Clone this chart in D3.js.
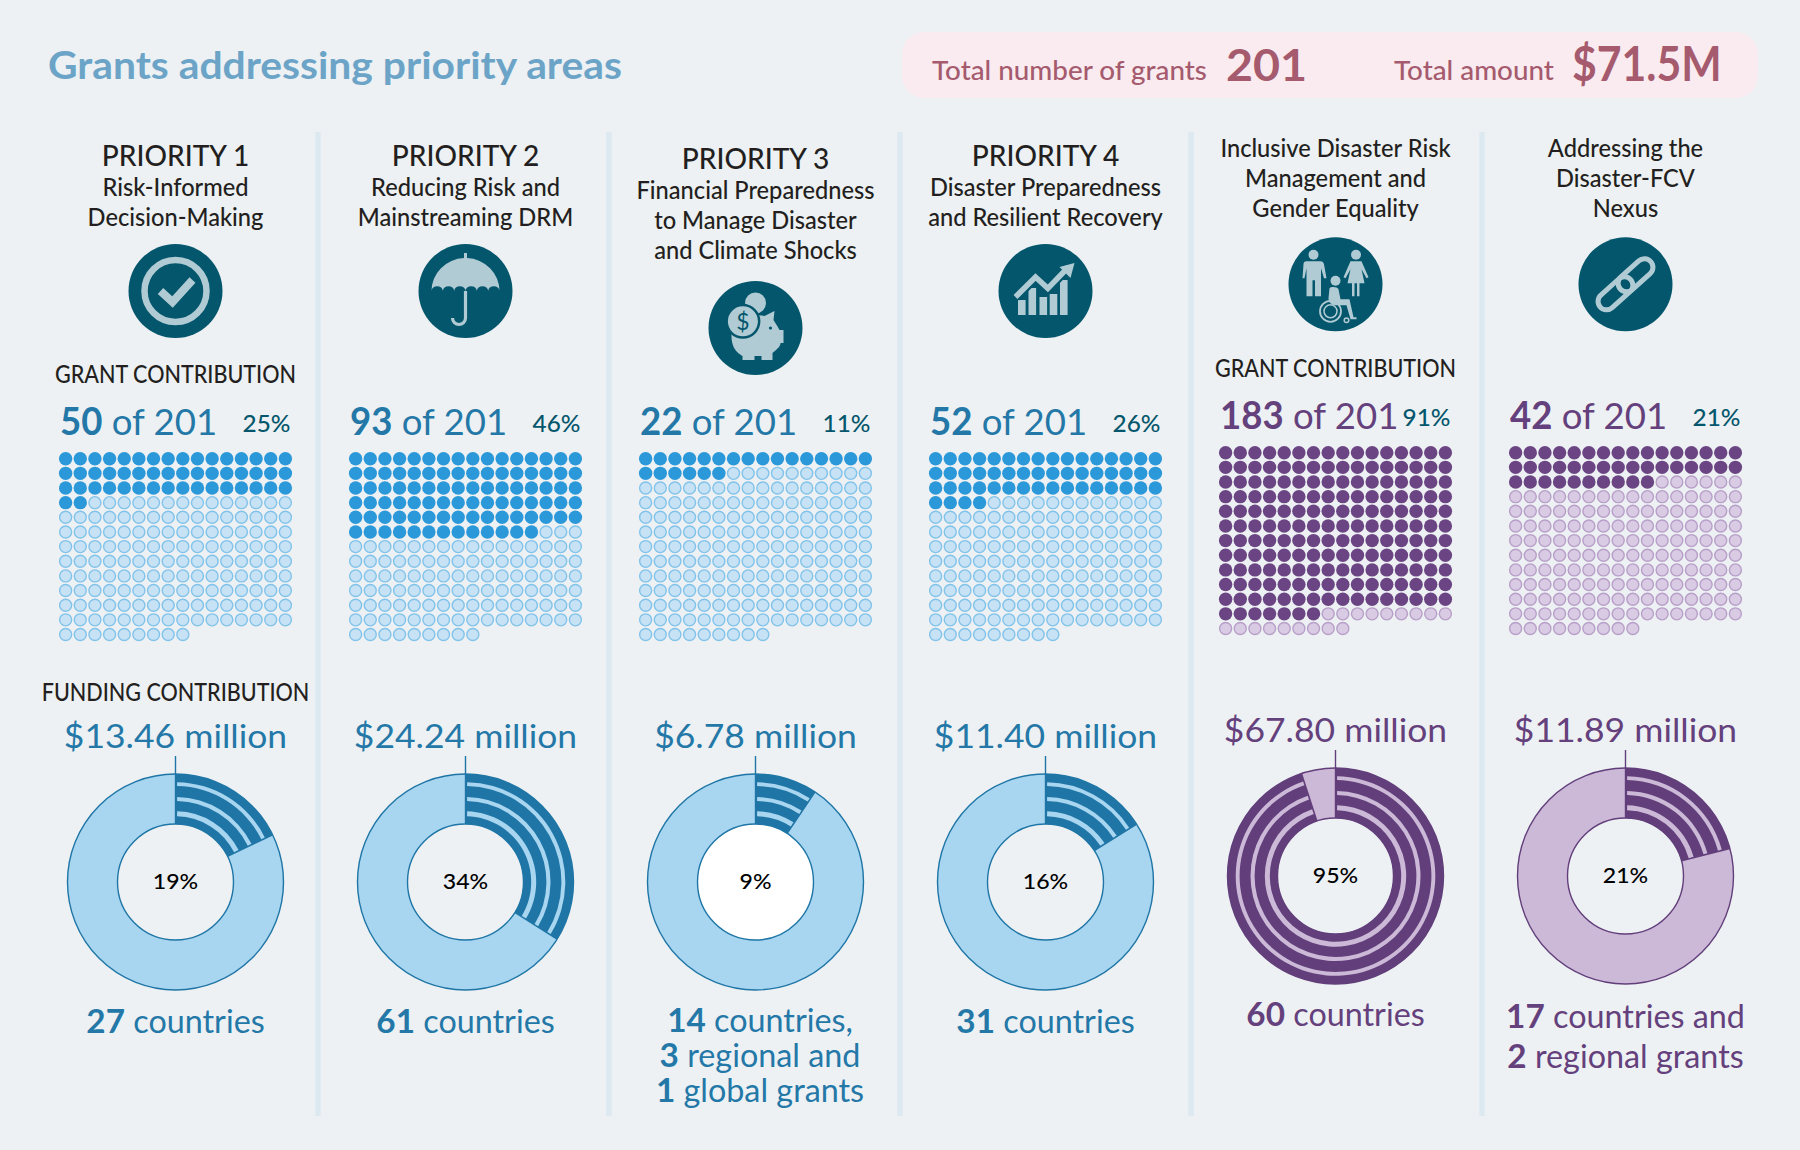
<!DOCTYPE html>
<html>
<head>
<meta charset="utf-8">
<script src="https://cdn.jsdelivr.net/npm/d3@7"></script>
<style>
  html, body { margin: 0; padding: 0; background: #edf1f3; }
  svg { display: block; }
  text { font-family: Lato, "Noto Sans", sans-serif; }
</style>
</head>
<body>
<div id="chart"></div>
<script>
// values
var chartTitle = "Grants addressing priority areas";
var totalGrants = 201;
var totalAmount = "$71.5M";

var priorityHeads = ["PRIORITY 1", "PRIORITY 2", "PRIORITY 3", "PRIORITY 4", null, null];
var priorityNames = [
  ["Risk-Informed", "Decision-Making"],
  ["Reducing Risk and", "Mainstreaming DRM"],
  ["Financial Preparedness", "to Manage Disaster", "and Climate Shocks"],
  ["Disaster Preparedness", "and Resilient Recovery"],
  ["Inclusive Disaster Risk", "Management and", "Gender Equality"],
  ["Addressing the", "Disaster-FCV", "Nexus"]
];
var grantCounts = [50, 93, 22, 52, 183, 42];
var grantPct = ["25%", "46%", "11%", "26%", "91%", "21%"];
var fundingAmounts = ["$13.46 million", "$24.24 million", "$6.78 million", "$11.40 million", "$67.80 million", "$11.89 million"];
var fundingPct = ["19%", "34%", "9%", "16%", "95%", "21%"];
// share as drawn on the ring
var fundingShare = [17.9, 34, 9.4, 16.1, 95, 21];
var reachLines = [
  ["27 countries"],
  ["61 countries"],
  ["14 countries,", "3 regional and", "1 global grants"],
  ["31 countries"],
  ["60 countries"],
  ["17 countries and", "2 regional grants"]
];

var width = 1800, height = 1150;
var ink = "#231f20", teal = "#04566c", iconLight = "#b0cbd4";
var blue = {text: "#2478a8", dark: "#1f76a6", light: "#a8d5f0", dot: "#2a98d9", dotOff: "#c7e2f5", dotLine: "#82c3ea"};
var purple = {text: "#64407c", dark: "#623f7b", light: "#ccb9d8", dot: "#6b4483", dotOff: "#d9cbe3", dotLine: "#b89fc9"};

var svg = d3.select("#chart").append("svg").attr("width", width).attr("height", height);
svg.append("rect").attr("width", width).attr("height", height).attr("fill", "#edf1f3");

var x = d3.scaleLinear().domain([0, 5]).range([175.5, 1625.5]);
var sepX = d3.scaleLinear().domain([0, 4]).range([318, 1482]);

// text helper, the squeeze sets the width of the font to that of the original
function label(parent, px, py, str, size, color, opts) {
  opts = opts || {};
  var t = parent.append("text")
    .attr("transform", "translate(" + px + "," + py + ") scale(" + (opts.squeeze || 1) + ",1)")
    .attr("text-anchor", opts.anchor || "middle")
    .attr("font-size", size)
    .attr("font-weight", opts.weight || 400)
    .attr("fill", color);
  if (opts.boldFirst) {
    var parts = str.split(" ");
    t.append("tspan").attr("font-weight", 700).attr("font-size", opts.boldSize || size).text(parts[0]);
    t.append("tspan").text(" " + parts.slice(1).join(" "));
  } else {
    t.text(str);
  }
  return t;
}

// header
label(svg, 48, 79, chartTitle, 38.5, "#6ca4c8", {anchor: "start", weight: 700, squeeze: 1.06});
svg.append("rect").attr("x", 902).attr("y", 32).attr("width", 856).attr("height", 66).attr("rx", 22).attr("fill", "#f9ebef");
var rose = "#a55a6e";
label(svg, 932, 79.5, "Total number of grants", 27, rose, {anchor: "start", weight: 500, squeeze: 1.03});
label(svg, 1226, 81, String(totalGrants), 44, rose, {anchor: "start", weight: 700, squeeze: 1.06});
label(svg, 1394, 79.5, "Total amount", 27, rose, {anchor: "start", weight: 500, squeeze: 1.03});
label(svg, 1572, 81, totalAmount, 48, rose, {anchor: "start", weight: 700, squeeze: 0.89});

// column separators
svg.selectAll(".sep").data(d3.range(5)).enter().append("rect")
  .attr("class", "sep")
  .attr("x", function(d) { return sepX(d) - 2.75; })
  .attr("y", 132).attr("width", 5.5).attr("height", 984)
  .attr("fill", "#dde9f1");

// icons, drawn around the centre of the dark disc
var icons = [
  function(g) {
    g.append("circle").attr("r", 31).attr("fill", "none").attr("stroke", iconLight).attr("stroke-width", 6.5);
    g.append("path").attr("d", "M-15,0L-3,11L17,-11").attr("fill", "none").attr("stroke", iconLight).attr("stroke-width", 8);
  },
  function(g) {
    var edge = "M-34,0A34,33 0 0 1 -1.5,-33V-38H1.5V-33A34,33 0 0 1 34,0";
    d3.range(6).forEach(function() { edge += "a5.67,5 0 0 0 -11.33,0"; });
    g.append("path").attr("d", edge + "Z").attr("fill", iconLight);
    g.append("path").attr("d", "M0,0V27A6.5,6.5 0 0 1 -13,27").attr("fill", "none").attr("stroke", iconLight).attr("stroke-width", 3.2);
  },
  function(g) {
    g.append("circle").attr("cx", 0).attr("cy", -25).attr("r", 10.5).attr("fill", iconLight);
    g.append("path").attr("fill", iconLight)
      .attr("d", "M-24,8C-24,22 -16,26 -13,28V32H-1V28H6V32H17V25C22,21 25,18 25,15H28V2H24C22,-2 19,-6 18,-8L19,-17L9,-12C0,-15 -24,-10 -24,8Z");
    g.append("circle").attr("cx", 15).attr("cy", 0).attr("r", 1.6).attr("fill", teal);
    g.append("circle").attr("cx", -12.6).attr("cy", -6.7).attr("r", 17.5).attr("fill", teal);
    g.append("circle").attr("cx", -12.6).attr("cy", -6.7).attr("r", 15).attr("fill", iconLight);
    g.append("text").attr("x", -12.6).attr("y", 1.5).attr("text-anchor", "middle").attr("font-size", 23).attr("fill", teal).text("$");
  },
  function(g) {
    var bars = [[-27.5, 9], [-17, -3], [-6, 6], [4.2, 3], [14.5, -11]];
    bars.forEach(function(b) {
      g.append("rect").attr("x", b[0]).attr("y", b[1]).attr("width", 7.6).attr("height", 24 - b[1]).attr("fill", iconLight);
    });
    var trend = "M-30,6L-10,-14L2.3,-2.7L23,-24";
    g.append("path").attr("d", trend).attr("fill", "none").attr("stroke", teal).attr("stroke-width", 10);
    g.append("path").attr("d", trend).attr("fill", "none").attr("stroke", iconLight).attr("stroke-width", 5.5);
    g.append("path").attr("d", "M29,-28L14,-24L25,-13Z").attr("fill", iconLight);
  },
  function(g) {
    g.append("circle").attr("cx", -22).attr("cy", -29.5).attr("r", 5).attr("fill", iconLight);
    g.append("path").attr("fill", iconLight)
      .attr("d", "M-29,-23H-15C-13,-23 -12,-22 -11.5,-20L-9,-6H-11.5L-14.5,-16V12H-20.5V-4H-23V12H-29V-16L-31,-6H-33L-32,-20C-32,-22 -31,-23 -29,-23Z");
    g.append("circle").attr("cx", 20.5).attr("cy", -29.5).attr("r", 5).attr("fill", iconLight);
    g.append("path").attr("fill", iconLight)
      .attr("d", "M15,-23H26L33,-7L31,-6L26,-15L29,-1H24V12H21.5V-1H19V12H16.5V-1H12L15,-15L10,-6L8,-7Z");
    g.append("circle").attr("cx", 0).attr("cy", -3.5).attr("r", 5).attr("fill", iconLight);
    g.append("path").attr("fill", iconLight)
      .attr("d", "M-6,4C-5,2 2,2 3,5L5,15H14L18,33H21V35H15L11,21H0C-4,21 -7,18 -7,14Z");
    g.append("circle").attr("cx", -5).attr("cy", 27).attr("r", 10.5).attr("fill", "none").attr("stroke", iconLight).attr("stroke-width", 1.8);
    g.append("circle").attr("cx", -5).attr("cy", 27).attr("r", 6.5).attr("fill", "none").attr("stroke", iconLight).attr("stroke-width", 1.5);
    g.append("circle").attr("cx", 11).attr("cy", 36).attr("r", 2.3).attr("fill", "none").attr("stroke", iconLight).attr("stroke-width", 1.5);
  },
  function(g) {
    var chain = g.append("g").attr("transform", "rotate(-42)");
    chain.append("rect").attr("x", -34).attr("y", -8.5).attr("width", 41).attr("height", 17).attr("rx", 8.5)
      .attr("fill", "none").attr("stroke", iconLight).attr("stroke-width", 5);
    chain.append("rect").attr("x", -7).attr("y", -8.5).attr("width", 41).attr("height", 17).attr("rx", 8.5)
      .attr("fill", "none").attr("stroke", iconLight).attr("stroke-width", 5);
  }
];

// dot grid, 16 across
var perRow = 16, rows = Math.ceil(totalGrants / perRow);
var dotPitch = 14.65;
var dots = d3.range(totalGrants);

// ring angle and the bands of the striped part
var angle = d3.scaleLinear().domain([0, 100]).range([0, 2 * Math.PI]);
var rOuter = 108, rInner = 58;
var arc = d3.arc();
var lightBands = [[65.7, 70.7], [80.9, 85], [95.9, 99.8]];

function drawColumn(i) {
  var cx = x(i), pal = i >= 4 ? purple : blue;
  var col = svg.append("g").attr("class", "column");
  var shift = i >= 4 ? -6 : 0;

  // heading block sits differently in some columns
  var firstY = i == 2 ? 169.3 : i >= 4 ? 156 : 165.7;
  var nameY = i == 2 ? 199 : i >= 4 ? 157 : 196;
  var iconY = i == 2 ? 328 : i >= 4 ? 284.3 : 291;

  if (priorityHeads[i]) label(col, cx, firstY, priorityHeads[i], 29, ink, {weight: 500, squeeze: 0.97});
  priorityNames[i].forEach(function(line, k) {
    label(col, cx, nameY + k * 30, line, 24, ink, {weight: 500, squeeze: 0.985});
  });

  var icon = col.append("g").attr("transform", "translate(" + cx + "," + iconY + ")");
  icon.append("circle").attr("r", 47).attr("fill", teal);
  icons[i](icon);

  // grant contribution
  if (i == 0 || i == 4) label(col, cx, 383 + shift, "GRANT CONTRIBUTION", 24.5, ink, {weight: 500, squeeze: 0.88});
  var gridX = d3.scaleLinear().domain([0, perRow - 1]).range([cx - dotPitch * 7.5, cx + dotPitch * 7.5]);
  var gridY = d3.scaleLinear().domain([0, rows - 1]).range([458.7 + shift, 458.7 + shift + dotPitch * (rows - 1)]);

  label(col, cx - 115.5, 434.5 + shift, grantCounts[i] + " of " + totalGrants, 37.5, pal.text, {anchor: "start", squeeze: 0.975, boldFirst: true});
  label(col, cx + 115, 432 + shift, grantPct[i], 23, teal, {anchor: "end", weight: 500, squeeze: 1.06});

  col.append("g").selectAll("circle").data(dots).enter().append("circle")
    .attr("cx", function(d) { return gridX(d % perRow); })
    .attr("cy", function(d) { return gridY(Math.floor(d / perRow)); })
    .attr("r", function(d) { return d < grantCounts[i] ? 6.7 : 6; })
    .attr("fill", function(d) { return d < grantCounts[i] ? pal.dot : pal.dotOff; })
    .attr("stroke", function(d) { return d < grantCounts[i] ? "none" : pal.dotLine; })
    .attr("stroke-width", 1.4);

  // funding contribution
  if (i == 0) label(col, cx, 700.7, "FUNDING CONTRIBUTION", 24.5, ink, {weight: 500, squeeze: 0.88});
  label(col, cx, 748 + shift, fundingAmounts[i], 33.5, pal.text, {squeeze: 1.06});

  var cy = 882 + shift;
  var ring = col.append("g").attr("transform", "translate(" + cx + "," + cy + ")");
  if (i == 2) ring.append("circle").attr("r", rInner).attr("fill", "#fff");
  ring.append("path")
    .attr("d", arc({innerRadius: rInner, outerRadius: rOuter, startAngle: 0, endAngle: 2 * Math.PI}))
    .attr("fill", pal.light);

  var end = angle(fundingShare[i]);
  ring.append("path")
    .attr("d", arc({innerRadius: rInner, outerRadius: rOuter, startAngle: 0, endAngle: end}))
    .attr("fill", pal.dark);
  lightBands.forEach(function(b) {
    var r = (b[0] + b[1]) / 2, pad = 1.6 / r;
    ring.append("path")
      .attr("d", arc({innerRadius: b[0], outerRadius: b[1], startAngle: pad, endAngle: end - pad}))
      .attr("fill", pal.light);
  });
  ring.append("circle").attr("r", rOuter).attr("fill", "none").attr("stroke", pal.dark).attr("stroke-width", 1.4);
  ring.append("circle").attr("r", rInner).attr("fill", "none").attr("stroke", pal.dark).attr("stroke-width", 1.4);
  // tick into the ring
  ring.append("line").attr("y1", -rOuter - 18).attr("y2", -rInner).attr("stroke", pal.dark).attr("stroke-width", 1.4);

  label(col, cx, cy + 7, fundingPct[i], 22, "#000", {weight: 500, squeeze: 1.05});

  // reach below the ring, the three line block sits a bit to the right
  var reachY = i == 5 ? [1028, 1068] : i == 4 ? [1025.5] : i == 2 ? [1032, 1067, 1102] : [1032.7];
  var reachX = i == 2 ? cx + 4.5 : cx;
  reachLines[i].forEach(function(line, k) {
    label(col, reachX, reachY[k], line, 32, pal.text, {boldFirst: true, boldSize: 33, squeeze: 1.01});
  });
}

d3.range(6).forEach(drawColumn);
</script>
</body>
</html>
